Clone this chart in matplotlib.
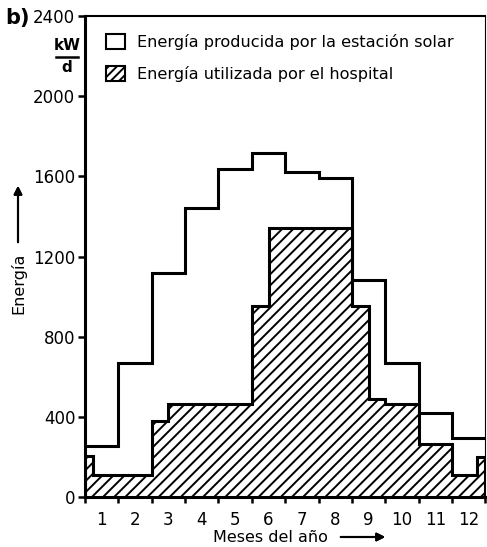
import matplotlib
matplotlib.use('Agg')
import matplotlib.pyplot as plt
from matplotlib.patches import Patch
from matplotlib.lines import Line2D

plt.rcParams['font.family'] = ['DejaVu Sans']
plt.rcParams['hatch.linewidth'] = 1.4

# meses (bordes de los intervalos) y etiquetas
month_edges = list(range(0, 13))
month_labels = [str(m) for m in range(1, 13)]

# energía producida por la estación solar (kW/d), un valor por mes
produced = [255, 670, 1120, 1440, 1635, 1715, 1620, 1590, 1085, 670, 418, 292]

# energía utilizada por el hospital: escalones en fracciones de mes
hospital_edges = [0, 0.25, 2, 2.5, 5, 5.5, 8, 8.5, 9, 10, 11, 11.75, 12]
hospital = [205, 110, 380, 465, 955, 1340, 955, 487, 462, 266, 110, 200]

y_ticks = [0, 400, 800, 1200, 1600, 2000, 2400]

W, H = 487, 547
fig = plt.figure(figsize=(W / 100, H / 100), dpi=100)
ax = fig.add_axes([85 / W, 50 / H, 400.5 / W, 481 / H])

# área rayada (hospital)
ax.stairs(hospital, hospital_edges, baseline=0, fill=True, hatch='///',
          facecolor='white', edgecolor='black', linewidth=0, zorder=2)
ax.stairs(hospital, hospital_edges, baseline=0, color='black', linewidth=2.2, zorder=3)

# línea escalonada (estación solar)
ax.stairs(produced, month_edges, baseline=None, color='black', linewidth=2.2, zorder=4)

ax.set_xlim(0, 12)
ax.set_ylim(0, 2400)

# ejes
for side in ['left', 'bottom']:
    ax.spines[side].set_linewidth(2.2)
ax.spines['top'].set_linewidth(1.5)
ax.spines['right'].set_linewidth(0.8)

ax.set_xticks(month_edges)
ax.set_xticklabels([])
ax.set_xticks([m + 0.5 for m in range(12)], minor=True)
ax.set_xticklabels(month_labels, minor=True, fontsize=12)
ax.tick_params(axis='x', which='major', direction='out', length=4, width=1.8)
ax.tick_params(axis='x', which='minor', length=0, pad=10)

ax.set_yticks(y_ticks)
ax.set_yticklabels([str(v) for v in y_ticks], fontsize=12)
ax.tick_params(axis='y', direction='out', length=5, width=1.8, pad=2)

# leyenda
handles = [Patch(facecolor='white', edgecolor='black', linewidth=1.5),
           Patch(facecolor='white', edgecolor='black', linewidth=1.5, hatch='////')]
labels = ['Energía producida por la estación solar',
          'Energía utilizada por el hospital']
ax.legend(handles, labels, loc='upper left', bbox_to_anchor=(0.053, 0.962),
          frameon=False, fontsize=11.6, handlelength=1.15, handleheight=1.05,
          handletextpad=0.75, labelspacing=0.95, borderpad=0, borderaxespad=0)

# rótulos
fig.text(5 / W, 1 - 18 / H, 'b)', fontsize=15, fontweight='bold', va='center', ha='left')
fig.text(67 / W, 1 - 45 / H, 'kW', fontsize=11, fontweight='bold', ha='center', va='center')
fig.add_artist(Line2D([56 / W, 78 / W], [1 - 57 / H, 1 - 57 / H], color='black', linewidth=1.8))
fig.text(67 / W, 1 - 68 / H, 'd', fontsize=11, fontweight='bold', ha='center', va='center')

fig.text(18 / W, 1 - 283 / H, 'Energía', fontsize=11.5, rotation=90, ha='center', va='center')
fig.add_artist(plt.annotate('', xy=(18 / W, 1 - 183 / H), xytext=(18 / W, 1 - 245 / H),
                            xycoords='figure fraction', textcoords='figure fraction',
                            arrowprops=dict(arrowstyle='-|>', color='black', lw=1.5,
                                            mutation_scale=12)))

fig.text(270 / W, 1 - 537 / H, 'Meses del año', fontsize=11.5, ha='center', va='center')
fig.add_artist(plt.annotate('', xy=(388 / W, 1 - 537 / H), xytext=(338 / W, 1 - 537 / H),
                            xycoords='figure fraction', textcoords='figure fraction',
                            arrowprops=dict(arrowstyle='-|>', color='black', lw=1.5,
                                            mutation_scale=12)))

fig.savefig('out.png', dpi=100)
